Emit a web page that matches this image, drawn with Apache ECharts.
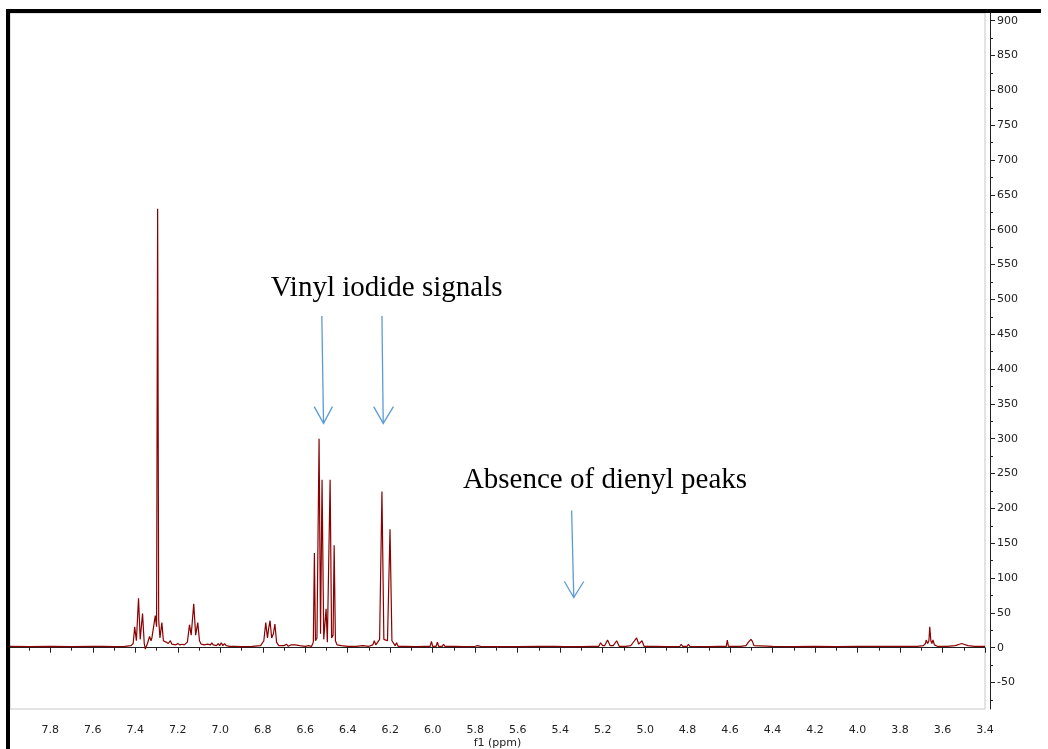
<!DOCTYPE html>
<html>
<head>
<meta charset="utf-8">
<title>1H NMR</title>
<script src="https://cdn.jsdelivr.net/npm/echarts@6/dist/echarts.min.js"></script>
<style>
  html, body { margin: 0; padding: 0; background: #fff; }
  #nmrChart { width: 1048px; height: 749px; }
</style>
</head>
<body>
<div id="nmrChart"></div>
<script>
// spectrum, [ppm, intensity], split by region (high ppm -> low ppm)
var aromatic = [
    [7.99, 2], [7.90, 1.5], [7.80, 2], [7.70, 1.5], [7.60, 2],
    [7.565, 2], [7.559, 4], [7.553, 2], [7.50, 1.5], [7.45, 2], [7.42, 3],
    [7.41, 6], [7.403, 30], [7.395, 10], [7.385, 71], [7.377, 12], [7.366, 49],
    [7.358, 6], [7.353, -2], [7.343, 6], [7.333, 16], [7.326, 10], [7.322, 14],
    [7.314, 12], [7.306, 46], [7.300, 30], [7.295, 630], [7.290, 40], [7.284, 14],
    [7.275, 36], [7.268, 10], [7.255, 8], [7.245, 6], [7.235, 10], [7.228, 5],
    [7.21, 4], [7.20, 6], [7.19, 4], [7.18, 5], [7.17, 4],
    [7.155, 8], [7.145, 33], [7.137, 18], [7.125, 63], [7.116, 18], [7.106, 36],
    [7.098, 10], [7.09, 5], [7.075, 4],
    [7.06, 5], [7.052, 7], [7.046, 4], [7.040, 7], [7.033, 4], [7.025, 6],
    [7.018, 3], [7.010, 6], [7.003, 3], [6.995, 7], [6.988, 3], [6.980, 6],
    [6.972, 3], [6.965, 5], [6.955, 2],
    [6.93, 2], [6.90, 1.5], [6.85, 2], [6.81, 3],
    [6.795, 10], [6.786, 36], [6.778, 14], [6.772, 28], [6.766, 39], [6.758, 14],
    [6.750, 20], [6.743, 34], [6.735, 8], [6.725, 3],
    [6.70, 3], [6.688, 5], [6.680, 2], [6.668, 4], [6.660, 2], [6.648, 4],
    [6.640, 2], [6.625, 3], [6.60, 2], [6.585, 3], [6.57, 2]
];
var vinyl = [
    [6.562, 8], [6.557, 136], [6.552, 10], [6.545, 14], [6.535, 300], [6.528, 20],
    [6.521, 241], [6.513, 12], [6.507, 10], [6.502, 56], [6.496, 8], [6.490, 10],
    [6.483, 241], [6.476, 14], [6.469, 18], [6.464, 147], [6.458, 10], [6.450, 4],
    [6.43, 3], [6.40, 2], [6.36, 2], [6.33, 3], [6.30, 2],
    [6.282, 4], [6.275, 10], [6.268, 4], [6.250, 12], [6.239, 224], [6.230, 12],
    [6.213, 10], [6.201, 170], [6.192, 10], [6.177, 3], [6.170, 7], [6.163, 2]
];
var olefinic = [
    [6.13, 2], [6.08, 1.5], [6.03, 2],
    [6.012, 2], [6.006, 9], [6.000, 2], [5.984, 2], [5.978, 8], [5.972, 2],
    [5.955, 2], [5.949, 5], [5.943, 2],
    [5.90, 2], [5.85, 1.5], [5.80, 2], [5.789, 3], [5.775, 2], [5.70, 1.5],
    [5.60, 1.5], [5.50, 2],
    [5.478, 2], [5.473, 4], [5.466, 2], [5.460, 4], [5.454, 2], [5.446, 4],
    [5.440, 2], [5.433, 4], [5.426, 2],
    [5.38, 1.5], [5.30, 1.5], [5.25, 2],
    [5.218, 2], [5.210, 7], [5.200, 3], [5.190, 3], [5.177, 11], [5.165, 3],
    [5.150, 3], [5.134, 10], [5.122, 2],
    [5.09, 2], [5.068, 3], [5.060, 6], [5.052, 4], [5.040, 14], [5.030, 5],
    [5.022, 4], [5.015, 10], [5.005, 2]
];
var aliphatic = [
    [4.95, 2], [4.90, 1.5],
    [4.836, 2], [4.830, 5], [4.824, 2], [4.802, 2], [4.796, 5], [4.790, 2],
    [4.70, 1.5], [4.65, 2],
    [4.618, 2], [4.613, 11], [4.608, 2],
    [4.55, 2], [4.525, 3], [4.514, 8], [4.508, 10], [4.502, 12], [4.495, 9], [4.488, 3],
    [4.40, 2], [4.30, 1.5], [4.20, 2], [4.10, 1.5], [4.00, 2], [3.90, 2], [3.80, 2], [3.72, 2],
    [3.690, 3], [3.680, 6], [3.677, 11], [3.670, 6], [3.664, 10], [3.660, 30],
    [3.655, 10], [3.650, 6], [3.645, 11], [3.638, 4], [3.625, 2],
    [3.58, 2], [3.54, 3], [3.52, 5], [3.51, 6], [3.50, 5], [3.48, 3], [3.45, 2], [3.40, 2]
];

// axis ticks
var xMajorTicks = [7.8, 7.6, 7.4, 7.2, 7.0, 6.8, 6.6, 6.4, 6.2, 6.0, 5.8, 5.6, 5.4, 5.2, 5.0, 4.8, 4.6, 4.4, 4.2, 4.0, 3.8, 3.6, 3.4];
var xMinorTicks = [7.9, 7.7, 7.5, 7.3, 7.1, 6.9, 6.7, 6.5, 6.3, 6.1, 5.9, 5.7, 5.5, 5.3, 5.1, 4.9, 4.7, 4.5, 4.3, 4.1, 3.9, 3.7, 3.5];
var yMajorTicks = [-50, 0, 50, 100, 150, 200, 250, 300, 350, 400, 450, 500, 550, 600, 650, 700, 750, 800, 850, 900];
var yMinorTicks = [-75, -25, 25, 75, 125, 175, 225, 275, 325, 375, 425, 475, 525, 575, 625, 675, 725, 775, 825, 875];

// annotations in data coords [ppm, intensity]
var labels = [
    { text: 'Vinyl iodide signals', at: [6.763, 502] },
    { text: 'Absence of dienyl peaks', at: [5.858, 226] }
];
var arrows = [
    { from: [6.522, 476], to: [6.514, 322], wingL: [6.558, 346], wingR: [6.472, 346] },
    { from: [6.239, 476], to: [6.233, 322], wingL: [6.278, 346], wingR: [6.185, 346] },
    { from: [5.346, 197], to: [5.336, 72], wingL: [5.380, 95], wingR: [5.289, 95] }
];

var spectrum = aromatic.concat(vinyl, olefinic, aliphatic);

var axisColor = '#222';
var tickFont = { fontFamily: 'DejaVu Sans', fontSize: 11, color: axisColor };

var nmrChart = echarts.init(document.getElementById('nmrChart'));
var option = {
    animation: false,
    grid: {
        left: 10, right: 63, top: 13, bottom: 40,
        outerBoundsMode: 'none',
        containLabel: false,
        show: true, borderColor: '#c8c8c8', borderWidth: 1
    },
    xAxis: [{
        type: 'value', inverse: true, min: 3.4, max: 7.99,
        position: 'bottom', offset: 5,
        name: 'f1 (ppm)', nameLocation: 'middle', nameGap: 24,
        nameMoveOverlap: false,
        nameTextStyle: tickFont,
        axisLine: { lineStyle: { color: axisColor, width: 1 } },
        axisTick: { customValues: xMajorTicks, length: 5, lineStyle: { color: axisColor } },
        axisLabel: Object.assign({ customValues: xMajorTicks, margin: 11,
            formatter: function (v) { return v.toFixed(1); } }, tickFont),
        splitLine: { show: false }
    }, {
        type: 'value', inverse: true, min: 3.4, max: 7.99,
        position: 'bottom', offset: 5,
        axisLine: { show: false },
        axisTick: { customValues: xMinorTicks, length: 3, lineStyle: { color: axisColor } },
        axisLabel: { show: false },
        splitLine: { show: false }
    }],
    yAxis: [{
        type: 'value', min: -88, max: 911,
        position: 'right', offset: 5,
        axisLine: { show: true, lineStyle: { color: axisColor, width: 1 } },
        axisTick: { show: true, customValues: yMajorTicks, inside: false, length: 5, lineStyle: { color: axisColor } },
        axisLabel: Object.assign({ customValues: yMajorTicks, margin: 7 }, tickFont),
        splitLine: { show: false }
    }, {
        type: 'value', min: -88, max: 911,
        position: 'right', offset: 5,
        axisLine: { show: false },
        axisTick: { show: true, customValues: yMinorTicks, length: 3, lineStyle: { color: axisColor } },
        axisLabel: { show: false },
        splitLine: { show: false }
    }],
    series: [{
        type: 'line',
        data: spectrum,
        xAxisIndex: 0,
        yAxisIndex: 0,
        showSymbol: false,
        symbol: 'none',
        clip: true,
        lineStyle: { color: '#8b0000', width: 1.2 }
    }]
};
nmrChart.setOption(option);

// frame + annotations
function px(p) {
    return nmrChart.convertToPixel({ xAxisIndex: 0, yAxisIndex: 0 }, p);
}
var blue = '#5b9bd5';
var elements = [
    { type: 'rect', shape: { x: 6, y: 9, width: 1035, height: 4 }, style: { fill: '#000' }, silent: true },
    { type: 'rect', shape: { x: 6, y: 9, width: 4, height: 740 }, style: { fill: '#000' }, silent: true }
];
labels.forEach(function (l) {
    var p = px(l.at);
    elements.push({
        type: 'text', x: p[0], y: p[1] - 24,
        style: { text: l.text, fontFamily: 'Liberation Serif', fontSize: 29, fill: '#000',
            align: 'left', verticalAlign: 'top' }
    });
});
arrows.forEach(function (a) {
    var f = px(a.from), t = px(a.to), l = px(a.wingL), r = px(a.wingR);
    elements.push({ type: 'line', shape: { x1: f[0], y1: f[1], x2: t[0], y2: t[1] },
        style: { stroke: blue, lineWidth: 1.3 } });
    elements.push({ type: 'polyline', shape: { points: [l, t, r] },
        style: { stroke: blue, lineWidth: 1.3, fill: null } });
});
nmrChart.setOption({ graphic: { elements: elements } });

window.addEventListener('resize', function () {
    nmrChart.resize();
});
</script>
</body>
</html>
